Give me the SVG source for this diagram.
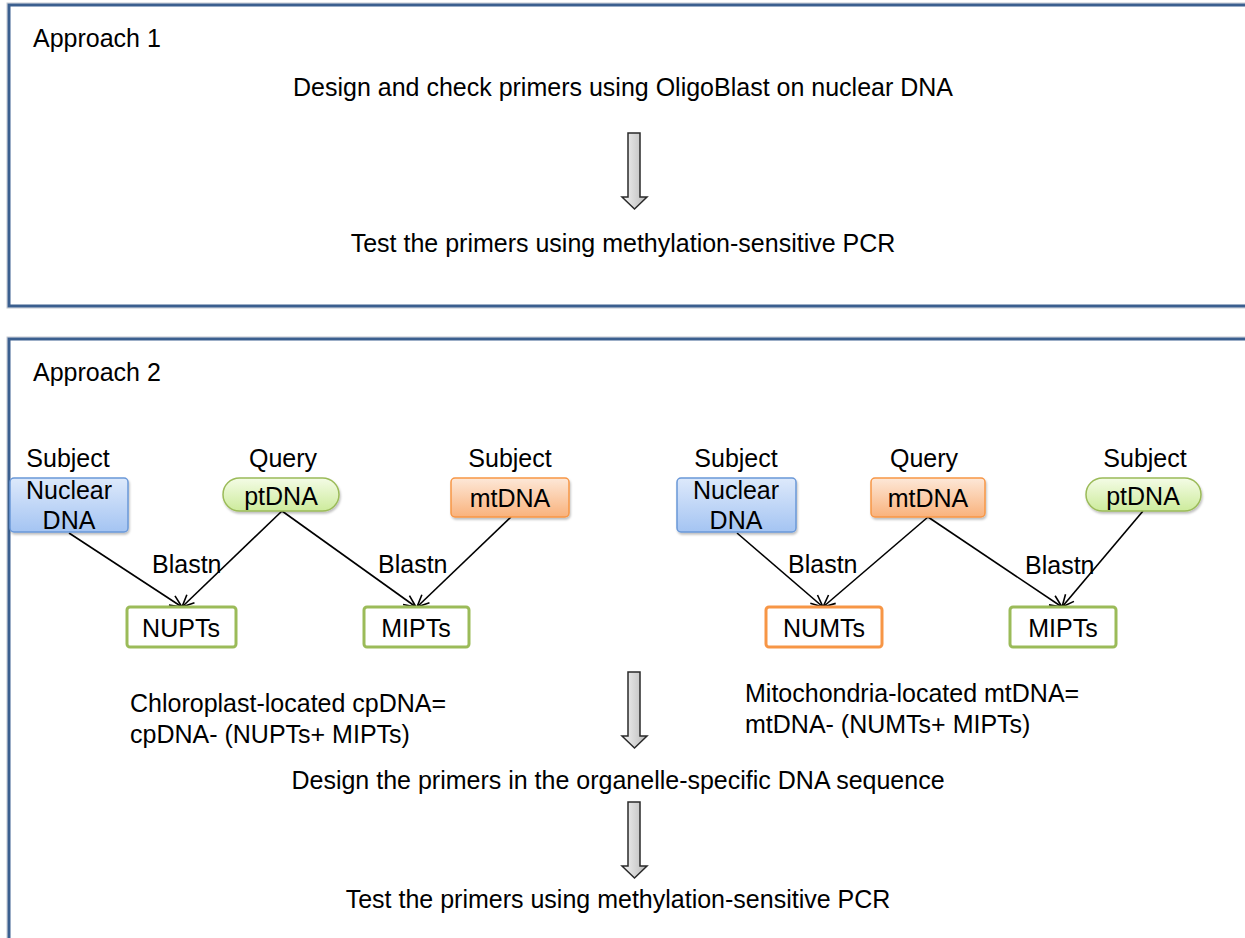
<svg xmlns="http://www.w3.org/2000/svg" width="1245" height="938" viewBox="0 0 1245 938">
<defs>
<style>
text{font-family:"Liberation Sans",Arial,sans-serif;font-size:25px;fill:#000}
.c{text-anchor:middle}
.frame{fill:none;stroke:#3B5F8F;stroke-width:3}
.frameS{fill:none;stroke:#c4c8cf;stroke-width:1}
.blk{stroke:#2a2a2a;stroke-width:1.5;fill:url(#gArrow)}
.con{stroke:#000;stroke-width:1.6;fill:none;marker-end:url(#vee)}
.blue{fill:url(#gBlue);stroke:#6a98d8;stroke-width:1.5}
.green{fill:url(#gGreen);stroke:#9bbb59;stroke-width:1.5}
.orange{fill:url(#gOrange);stroke:#f79646;stroke-width:1.5}
.outG{fill:#fff;stroke:#9bbb59;stroke-width:3}
.outO{fill:#fff;stroke:#f79646;stroke-width:3}
</style>
<linearGradient id="gArrow" x1="0" y1="0" x2="1" y2="0">
<stop offset="0" stop-color="#f4f4f4"/><stop offset="1" stop-color="#b8b8b8"/>
</linearGradient>
<linearGradient id="gBlue" x1="0" y1="0" x2="0" y2="1">
<stop offset="0" stop-color="#dde9fb"/><stop offset="1" stop-color="#a4c4f2"/>
</linearGradient>
<linearGradient id="gGreen" x1="0" y1="0" x2="0" y2="1">
<stop offset="0" stop-color="#f4fce6"/><stop offset="1" stop-color="#cdeb9c"/>
</linearGradient>
<linearGradient id="gOrange" x1="0" y1="0" x2="0" y2="1">
<stop offset="0" stop-color="#fde8d8"/><stop offset="1" stop-color="#f9b27c"/>
</linearGradient>
<filter id="sh" x="-10%" y="-10%" width="130%" height="140%">
<feDropShadow dx="1" dy="2" stdDeviation="1.2" flood-color="#000" flood-opacity="0.25"/>
</filter>
<marker id="vee" viewBox="0 0 14 14" refX="13" refY="7" markerWidth="14" markerHeight="14" markerUnits="userSpaceOnUse" orient="auto">
<path d="M1,1.5 L13,7 L1,12.5" fill="none" stroke="#000" stroke-width="1.6"/>
</marker>
</defs>
<rect width="1245" height="938" fill="#fff"/>

<g id="approach1">
<rect class="frameS" x="7" y="3" width="1250" height="305"/>
<rect class="frame" x="9" y="5" width="1250" height="301"/>
<text x="33" y="47">Approach 1</text>
</g>
<g id="a1-step1"><text class="c" x="623" y="96">Design and check primers using OligoBlast on nuclear DNA</text></g>
<g id="a1-arrow"><path class="blk" d="M628,133 H640 V197 H647 L634.5,209 L622,197 H628 Z"/></g>
<g id="a1-step2"><text class="c" x="623" y="252">Test the primers using methylation-sensitive PCR</text></g>

<g id="approach2">
<rect class="frameS" x="7" y="337" width="1250" height="620"/>
<rect class="frame" x="9" y="339" width="1250" height="620"/>
<text x="33" y="381">Approach 2</text>
</g>

<g id="connectors">
<line class="con" x1="69" y1="533" x2="182" y2="607"/>
<line class="con" x1="282" y1="511" x2="182" y2="607"/>
<line class="con" x1="282" y1="511" x2="416" y2="607"/>
<line class="con" x1="511" y1="517" x2="417" y2="607"/>
<line class="con" x1="737" y1="533" x2="823" y2="607"/>
<line class="con" x1="928" y1="517" x2="823" y2="607"/>
<line class="con" x1="928" y1="517" x2="1062" y2="607"/>
<line class="con" x1="1143" y1="511" x2="1062" y2="607"/>
<text x="152" y="573">Blastn</text>
<text x="378" y="573">Blastn</text>
<text x="788" y="573">Blastn</text>
<text x="1025" y="574">Blastn</text>
</g>

<g id="nuclear1">
<text class="c" x="68" y="467">Subject</text>
<rect class="blue" filter="url(#sh)" x="10" y="478" width="118" height="54" rx="4"/>
<text class="c" x="69" y="499">Nuclear</text>
<text class="c" x="69" y="529">DNA</text>
</g>
<g id="ptdna1">
<text class="c" x="283" y="467">Query</text>
<rect class="green" filter="url(#sh)" x="223" y="478" width="116" height="33" rx="16.5"/>
<text class="c" x="281" y="505">ptDNA</text>
</g>
<g id="mtdna1">
<text class="c" x="510" y="467">Subject</text>
<rect class="orange" filter="url(#sh)" x="451" y="478" width="118" height="39" rx="4"/>
<text class="c" x="510" y="507">mtDNA</text>
</g>
<g id="nupts">
<rect class="outG" x="127" y="607" width="109" height="40" rx="3"/>
<text class="c" x="181" y="637">NUPTs</text>
</g>
<g id="mipts1">
<rect class="outG" x="364" y="607" width="105" height="40" rx="3"/>
<text class="c" x="416" y="637">MIPTs</text>
</g>

<g id="nuclear2">
<text class="c" x="736" y="467">Subject</text>
<rect class="blue" filter="url(#sh)" x="677" y="478" width="119" height="54" rx="4"/>
<text class="c" x="736" y="499">Nuclear</text>
<text class="c" x="736" y="529">DNA</text>
</g>
<g id="mtdna2">
<text class="c" x="924" y="467">Query</text>
<rect class="orange" filter="url(#sh)" x="871" y="478" width="114" height="39" rx="4"/>
<text class="c" x="928" y="507">mtDNA</text>
</g>
<g id="ptdna2">
<text class="c" x="1145" y="467">Subject</text>
<rect class="green" filter="url(#sh)" x="1086" y="478" width="115" height="33" rx="16.5"/>
<text class="c" x="1143" y="505">ptDNA</text>
</g>
<g id="numts">
<rect class="outO" x="766" y="607" width="116" height="40" rx="3"/>
<text class="c" x="824" y="637">NUMTs</text>
</g>
<g id="mipts2">
<rect class="outG" x="1010" y="607" width="106" height="40" rx="3"/>
<text class="c" x="1063" y="637">MIPTs</text>
</g>

<g id="cp-note">
<text x="130" y="712">Chloroplast-located cpDNA=</text>
<text x="130" y="743">cpDNA- (NUPTs+ MIPTs)</text>
</g>
<g id="mt-note">
<text x="745" y="702">Mitochondria-located mtDNA=</text>
<text x="745" y="733">mtDNA- (NUMTs+ MIPTs)</text>
</g>
<g id="a2-arrow1"><path class="blk" d="M628,672 H640 V736 H647 L634.5,748 L622,736 H628 Z"/></g>
<g id="a2-step1"><text class="c" x="618" y="789">Design the primers in the organelle-specific DNA sequence</text></g>
<g id="a2-arrow2"><path class="blk" d="M628,802 H640 V866 H647 L634.5,878 L622,866 H628 Z"/></g>
<g id="a2-step2"><text class="c" x="618" y="908">Test the primers using methylation-sensitive PCR</text></g>
</svg>
